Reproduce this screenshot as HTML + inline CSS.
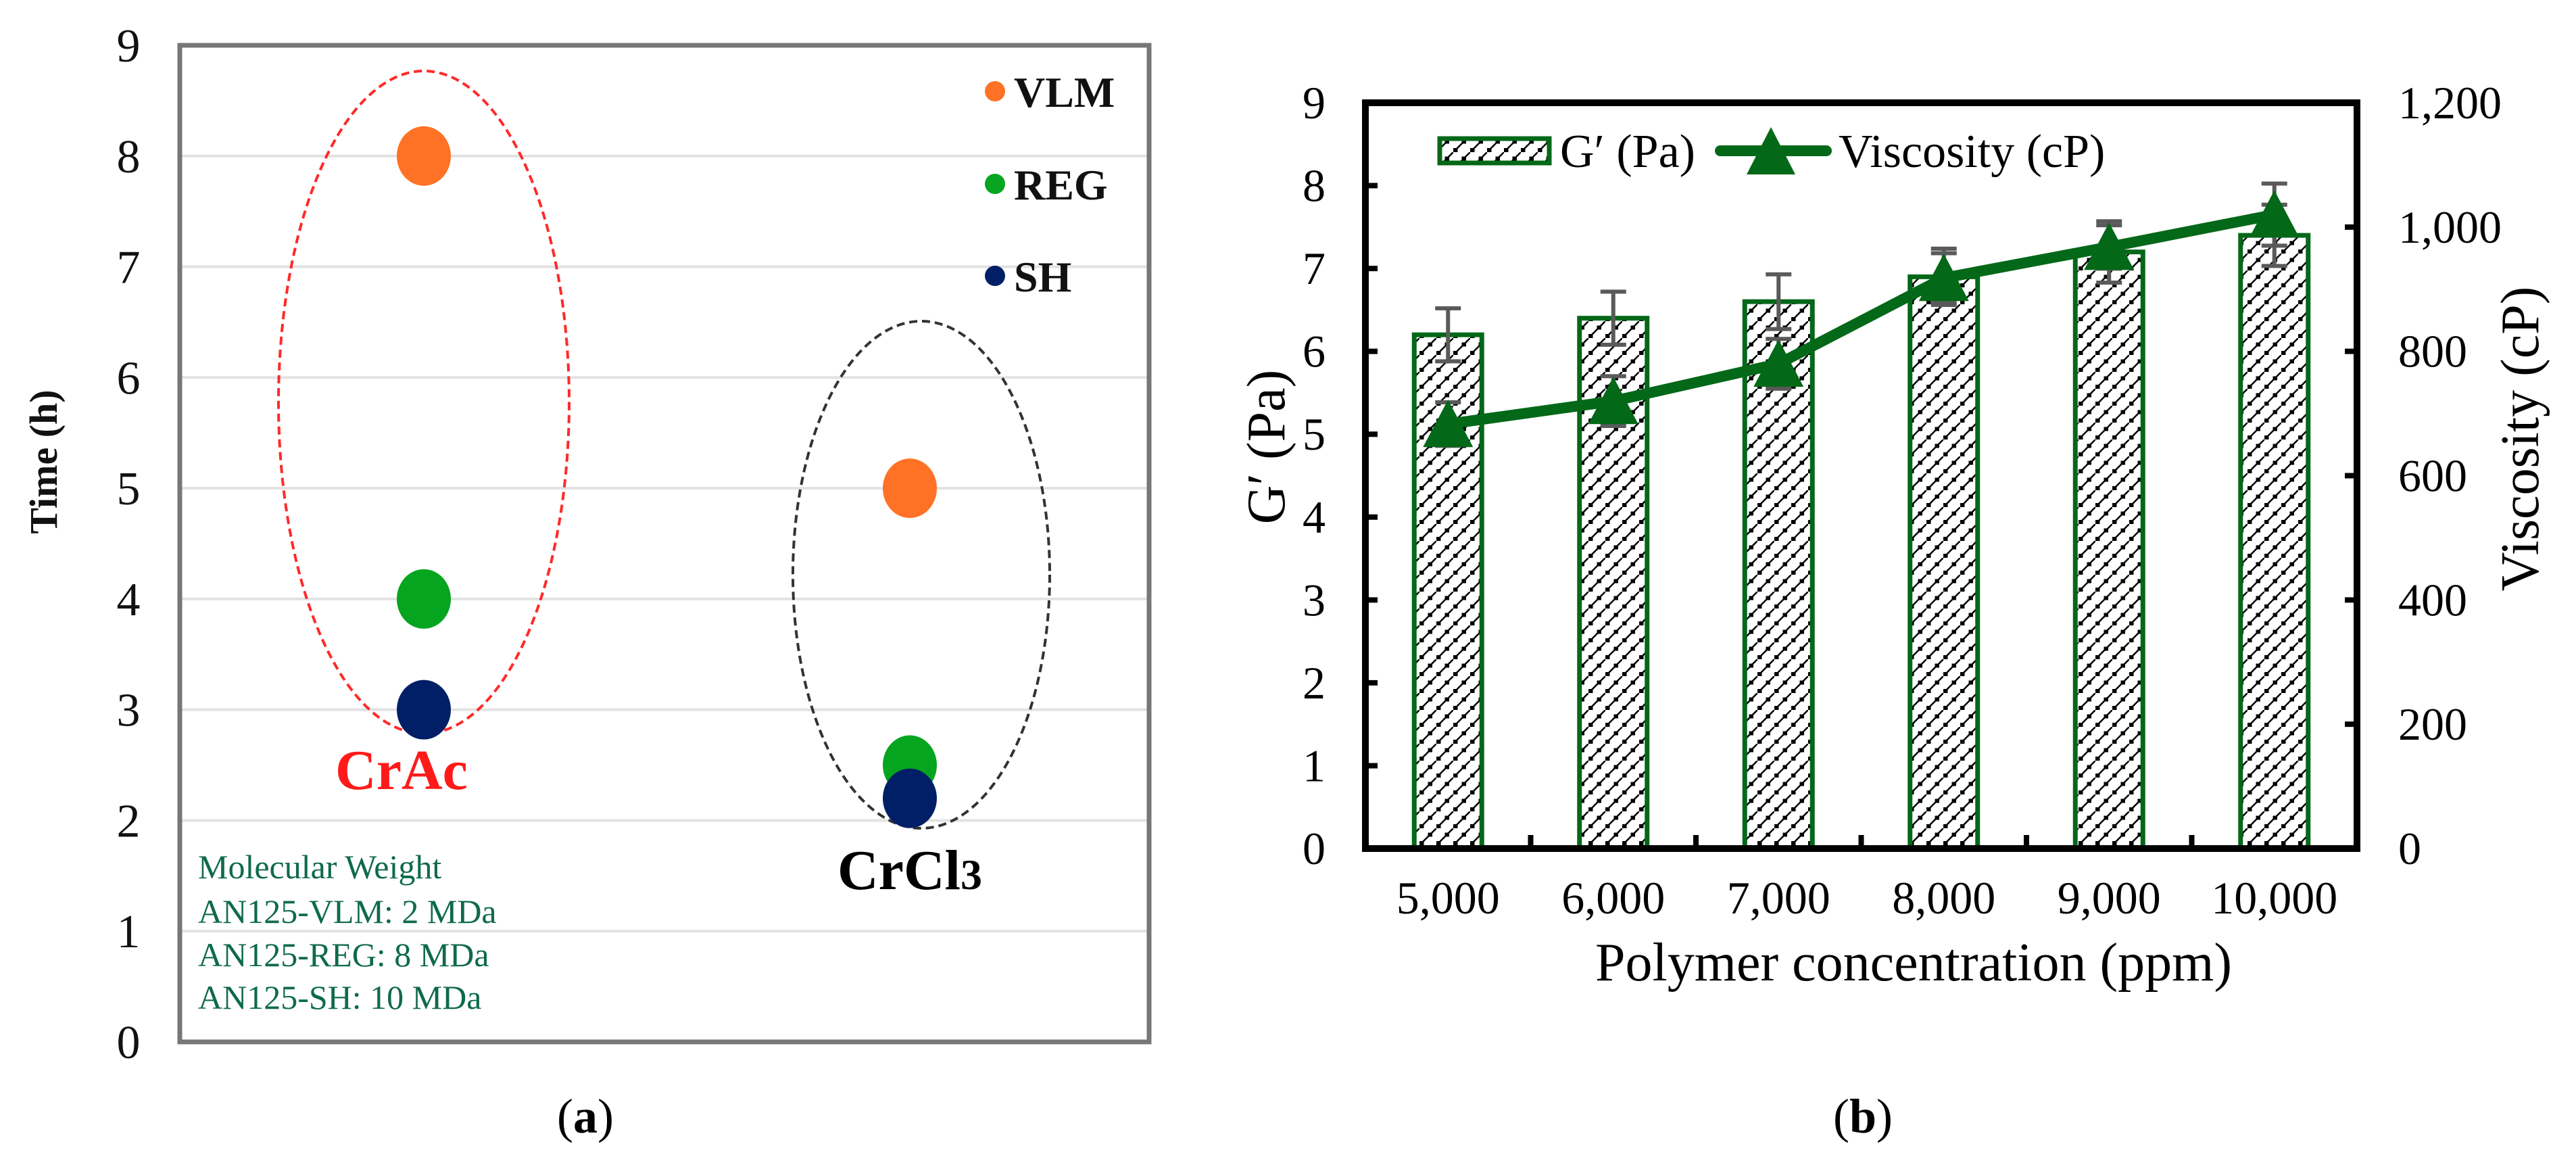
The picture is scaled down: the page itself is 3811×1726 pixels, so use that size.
<!DOCTYPE html>
<html><head><meta charset="utf-8"><style>
html,body{margin:0;padding:0;background:#fff;}
svg{display:block;font-family:"Liberation Serif",serif;}
text{font-family:"Liberation Serif",serif;}
</style></head><body>
<svg id="fig" width="3811" height="1726" viewBox="0 0 3811 1726">
<defs>
<pattern id="hatch" patternUnits="userSpaceOnUse" width="25" height="25">
<rect width="25" height="25" fill="#fff"/>
<path d="M-3,28 L28,-3" stroke="#000" stroke-width="2.5"/>
<rect x="0" y="19" width="6.5" height="6" fill="#000"/>
<rect x="12.5" y="6.5" width="6.5" height="6" fill="#000"/>
</pattern>
</defs>
<g id="pa"></g>
<g id="pb"></g>
</svg>
<script>
// ---------- Panel (a) data ----------
const aTicks = [0,1,2,3,4,5,6,7,8,9];
const aGroups = ["CrAc","CrCl3"];
const aSeries = ["VLM","REG","SH"];
const aVLM = [8, 5];
const aREG = [4, 2.5];
const aSH = [3, 2.2];
const aColors = ["#ff7225","#05a51f","#001f66"];
// ---------- Panel (b) data ----------
const bCats = ["5,000","6,000","7,000","8,000","9,000","10,000"];
const bG = [6.2, 6.4, 6.6, 6.9, 7.2, 7.4];
const bGerr = [0.32, 0.32, 0.33, 0.34, 0.37, 0.37];
const bVisc = [683, 720, 780, 918, 968, 1020];
const bViscErr = [35, 40, 40, 40, 35, 50];
const bLeftTicks = [0,1,2,3,4,5,6,7,8,9];
const bRightTicks = [0,200,400,600,800,1000,1200];
const bRightLabels = ["0","200","400","600","800","1,000","1,200"];

const NS = "http://www.w3.org/2000/svg";
function mk(parent, tag, attrs, text){
  const e = document.createElementNS(NS, tag);
  for (const k in attrs) e.setAttribute(k, attrs[k]);
  if (text !== undefined) e.textContent = text;
  parent.appendChild(e);
  return e;
}
// ===== Panel A =====
const pa = document.getElementById('pa');
const aL=266, aR=1700, aT=67, aB=1541;
const ay = v => aB - (aB - aT) * v / 9;
const ax = i => [627, 1346][i];
aTicks.forEach(t=>{
  if (t>0 && t<9){
    const g = mk(pa,'line',{x1:aL,x2:aR,y1:ay(t),y2:ay(t),stroke:'#e2e2e2','stroke-width':4});
    
    
  }
  const tl = mk(pa,'text',{x:190,y:ay(t)+24,'text-anchor':'middle','font-size':70,fill:'#111'},String(t));
  
  
});
const abox = mk(pa,'rect',{x:aL,y:aT,width:aR-aL,height:aB-aT,fill:'none',stroke:'#777','stroke-width':7});


const ytA = mk(pa,'text',{x:0,y:0,transform:'translate(84,683) rotate(-90)','text-anchor':'middle','font-size':58,'font-weight':'bold',fill:'#111'},'Time (h)');


// ellipses
const e1 = mk(pa,'ellipse',{cx:627,cy:595,rx:215,ry:490,fill:'none',stroke:'#ff2a2a','stroke-width':4,'stroke-dasharray':'12 7'});


const e2 = mk(pa,'ellipse',{cx:1363,cy:850,rx:190,ry:375,fill:'none',stroke:'#333','stroke-width':4,'stroke-dasharray':'12 7'});


// dots
[aVLM,aREG,aSH].forEach((arr,si)=>{
  arr.forEach((v,gi)=>{
    const d = mk(pa,'ellipse',{cx:ax(gi),cy:ay(v),rx:40,ry:44,fill:aColors[si]});
    
    
  });
});
// legend a
aSeries.forEach((s,i)=>{
  const yy=[135,272,408][i];
  const c = mk(pa,'circle',{cx:1472,cy:yy,r:15,fill:aColors[i]});
  
  
  const t = mk(pa,'text',{x:1500,y:yy+23,'font-size':64,'font-weight':'bold',fill:'#111'},s);
  
  
});
const crac = mk(pa,'text',{x:594,y:1167,'text-anchor':'middle','font-size':84,'font-weight':'bold',fill:'#ff1a1a'},'CrAc');


const crcl = mk(pa,'text',{x:1346,y:1315,'text-anchor':'middle','font-size':84,'font-weight':'bold',fill:'#000'});


crcl.textContent='CrCl';
mk(crcl,'tspan',{'font-size':64},'3');
["Molecular Weight","AN125-VLM: 2 MDa","AN125-REG: 8 MDa","AN125-SH: 10 MDa"].forEach((s,i)=>{
  const t = mk(pa,'text',{x:293,y:[1299,1365,1429,1492][i],'font-size':50,fill:'#0f6a4c'},s);
  
  
});
const la = mk(pa,'text',{x:866,y:1675,'text-anchor':'middle','font-size':72,fill:'#000'});


la.textContent='(';
mk(la,'tspan',{'font-weight':'bold'},'a');
mk(la,'tspan',{},')');

// ===== Panel B =====
const pb = document.getElementById('pb');
const bL=2020, bR=3487, bT=152, bB=1255;
const bw = (bR-bL)/bCats.length;
const bx = i => bL + bw*(i+0.5);
const byL = v => bB - (bB-bT)*v/9;
const byR = v => bB - (bB-bT)*v/1200;
const green='#036818';
// bars
bG.forEach((v,i)=>{
  const r = mk(pb,'rect',{x:bx(i)-50,y:byL(v),width:100,height:bB-byL(v),fill:'url(#hatch)',stroke:green,'stroke-width':7});
  
  
});
// G' error bars
bG.forEach((v,i)=>{
  const g = mk(pb,'g',{stroke:'#5a5a5a','stroke-width':6});
  
  
  const t=byL(v+bGerr[i]), b=byL(v-bGerr[i]);
  mk(g,'line',{x1:bx(i),x2:bx(i),y1:t,y2:b});
  mk(g,'line',{x1:bx(i)-19,x2:bx(i)+19,y1:t,y2:t});
  mk(g,'line',{x1:bx(i)-19,x2:bx(i)+19,y1:b,y2:b});
});
// viscosity error bars
bVisc.forEach((v,i)=>{
  const g = mk(pb,'g',{stroke:'#5a5a5a','stroke-width':6});
  
  
  const t=byR(v+bViscErr[i]), b=byR(v-bViscErr[i]);
  mk(g,'line',{x1:bx(i),x2:bx(i),y1:t,y2:b});
  mk(g,'line',{x1:bx(i)-19,x2:bx(i)+19,y1:t,y2:t});
  mk(g,'line',{x1:bx(i)-19,x2:bx(i)+19,y1:b,y2:b});
});
// viscosity line
const pts = bVisc.map((v,i)=>bx(i)+','+byR(v)).join(' ');
const pl = mk(pb,'polyline',{points:pts,fill:'none',stroke:green,'stroke-width':16,'stroke-linejoin':'round'});


bVisc.forEach((v,i)=>{
  const cx=bx(i), cy=byR(v);
  const tri = mk(pb,'polygon',{points:`${cx},${cy-36} ${cx-37},${cy+34} ${cx+37},${cy+34}`,fill:green});
  
  
});
// axes frame
const fr = mk(pb,'rect',{x:bL,y:bT,width:bR-bL,height:bB-bT,fill:'none',stroke:'#000','stroke-width':10});


bLeftTicks.forEach(t=>{
  const tk = mk(pb,'line',{x1:bL,x2:bL+18,y1:byL(t),y2:byL(t),stroke:'#000','stroke-width':8});
  
  
  const tl = mk(pb,'text',{x:1944,y:byL(t)+23,'text-anchor':'middle','font-size':68},String(t));
  
  
});
bRightTicks.forEach((t,i)=>{
  const tk = mk(pb,'line',{x1:bR-18,x2:bR,y1:byR(t),y2:byR(t),stroke:'#000','stroke-width':8});
  
  
  const tl = mk(pb,'text',{x:3548,y:byR(t)+23,'font-size':68},bRightLabels[i]);
  
  
});
bCats.forEach((c,i)=>{
  if (i>0){
    const tk = mk(pb,'line',{x1:bL+bw*i,x2:bL+bw*i,y1:bB,y2:bB-20,stroke:'#000','stroke-width':8});
    
    
  }
  const tl = mk(pb,'text',{x:bx(i),y:1351,'text-anchor':'middle','font-size':68},c);
  
  
});
const xt = mk(pb,'text',{x:2831,y:1450,'text-anchor':'middle','font-size':80},'Polymer concentration (ppm)');


const ylt = mk(pb,'text',{x:0,y:0,transform:'translate(1900,661) rotate(-90)','text-anchor':'middle','font-size':80},'G′ (Pa)');


const yrt = mk(pb,'text',{x:0,y:0,transform:'translate(3755,649) rotate(-90)','text-anchor':'middle','font-size':80},'Viscosity (cP)');


// legend b
const lb1 = mk(pb,'rect',{x:2130,y:205,width:162,height:36,fill:'url(#hatch)',stroke:green,'stroke-width':7});


const lt1 = mk(pb,'text',{x:2308,y:247,'font-size':70},'G′ (Pa)');


const ll = mk(pb,'line',{x1:2545,x2:2702,y1:223,y2:223,stroke:green,'stroke-width':16,'stroke-linecap':'round'});


const lm = mk(pb,'polygon',{points:'2620,188 2584,258 2656,258',fill:green});


const lt2 = mk(pb,'text',{x:2720,y:247,'font-size':70},'Viscosity (cP)');


const lbl = mk(pb,'text',{x:2756,y:1675,'text-anchor':'middle','font-size':72});


lbl.textContent='(';
mk(lbl,'tspan',{'font-weight':'bold'},'b');
mk(lbl,'tspan',{},')');
</script>
</body></html>
